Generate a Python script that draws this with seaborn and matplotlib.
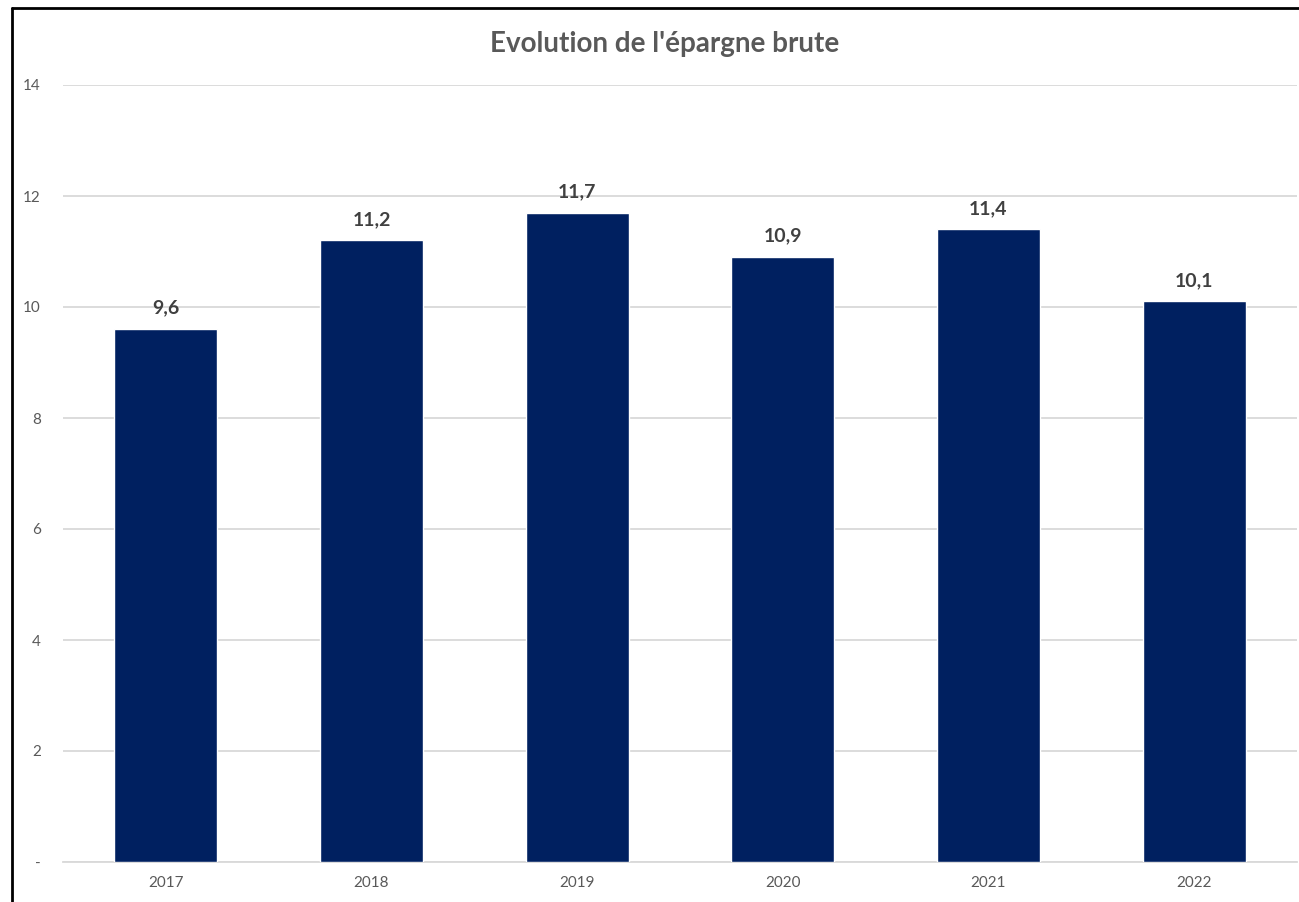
import matplotlib
matplotlib.use("Agg")
import matplotlib.pyplot as plt
import pandas as pd
import seaborn as sns
from matplotlib.lines import Line2D

# data
years = ["2017", "2018", "2019", "2020", "2021", "2022"]
epargne = [9.6, 11.2, 11.7, 10.9, 11.4, 10.1]
yticks = [0, 2, 4, 6, 8, 10, 12, 14]
ytick_labels = ["-", "2", "4", "6", "8", "10", "12", "14"]

sns.set_theme(style="white")
plt.rcParams["font.family"] = ["Lato", "DejaVu Sans"]

df = pd.DataFrame({"annee": years, "valeur": epargne})

fig = plt.figure(figsize=(12.99, 9.02), dpi=100)
ax = fig.add_axes([63 / 1299, 1 - 862 / 902, (1297 - 63) / 1299, (862 - 85) / 902])

sns.barplot(data=df, x="annee", y="valeur", color="#002060", width=0.5,
            saturation=1, ax=ax, zorder=3)

ax.set_ylim(0, 14)
ax.set_yticks(yticks)
ax.set_yticklabels(ytick_labels)
ax.yaxis.grid(True, color="#d9d9d9", linewidth=1.3, zorder=0)
ax.set_axisbelow(True)
for s in ["top", "right", "left"]:
    ax.spines[s].set_visible(False)
ax.spines["bottom"].set_color("#d9d9d9")
ax.spines["bottom"].set_linewidth(1.3)
ax.tick_params(axis="y", length=0, pad=16, labelsize=11, labelcolor="#595959")
ax.tick_params(axis="x", length=0, pad=10, labelsize=11, labelcolor="#595959")
ax.set_xlabel("")
ax.set_ylabel("")

for i, v in enumerate(epargne):
    ax.annotate(f"{v:.1f}".replace(".", ","), (i, v), xytext=(0, 9),
                textcoords="offset points", ha="center", va="bottom",
                fontsize=14, fontweight="bold", color="#404040")

fig.text(665 / 1299, 1 - 44 / 902, "Evolution de l'épargne brute", ha="center",
         va="center", fontsize=20, fontweight="bold", color="#595959")

# frame of the chart area (left and top edges visible)
x0, y1 = 11.5 / 1299, 1 - 7.5 / 902
fig.add_artist(Line2D([x0, x0], [0, y1], color="black", linewidth=2))
fig.add_artist(Line2D([x0, 1], [y1, y1], color="black", linewidth=2))

fig.savefig("out.png", dpi=100)
